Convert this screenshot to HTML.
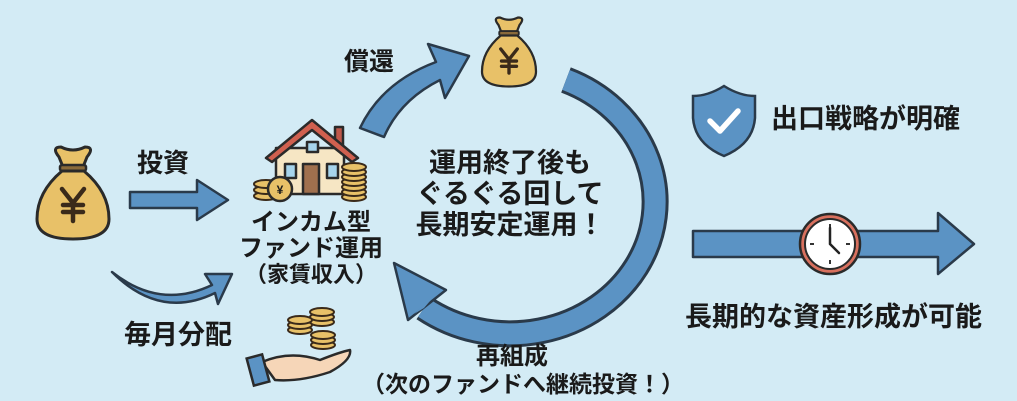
<!DOCTYPE html>
<html><head><meta charset="utf-8"><style>
html,body{margin:0;padding:0;background:#d3ebf5;}
svg{display:block}
text{font-family:"Liberation Sans","Noto Sans CJK JP",sans-serif;font-weight:bold;fill:#1a1a1a}
</style></head><body>
<svg width="1017" height="401" viewBox="0 0 1017 401" xmlns="http://www.w3.org/2000/svg">
<rect width="1017" height="401" fill="#d3ebf5"/>
<defs>
<g id="bag">
  <path d="M-14,-40 Q-22,-50 -12,-50 Q0,-44 12,-50 Q22,-50 14,-40 L10,-30 L-10,-30 Z" fill="#e8c168" stroke="#2a2a2a" stroke-width="3" stroke-linejoin="round"/>
  <rect x="-13" y="-32" width="26" height="6" rx="2" fill="#8a6a3a" stroke="#2a2a2a" stroke-width="2.5"/>
  <path d="M-11,-26 Q-36,-5 -36,22 Q-36,42 0,42 Q36,42 36,22 Q36,-5 11,-26 Z" fill="#e8c168" stroke="#2a2a2a" stroke-width="3"/>
  <path d="M-11,-8 L0,6 L11,-8 M0,6 L0,24 M-10,8 L10,8 M-10,15 L10,15" stroke="#3a2a1a" stroke-width="4.5" fill="none" stroke-linecap="round"/>
</g>
<g id="coin"><ellipse cx="0" cy="0" rx="12" ry="4" fill="#e8c168" stroke="#3a2a1a" stroke-width="2"/></g>
</defs>

<!-- left bag -->
<g transform="translate(73,197) scale(1.0)"><use href="#bag"/></g>
<text x="137" y="172" font-size="26">投資</text>
<path d="M130,192 H197 V180 L228,200 L197,220 V208 H130 Z" fill="#5b93c4" stroke="#2a3a4a" stroke-width="2.5" stroke-linejoin="round"/>

<!-- 毎月分配 curved arrow -->
<path d="M112,272 Q160,310 212,285 L205,274 L232,274 L218,304 L215,293 Q160,320 112,272 Z" fill="#5b93c4" stroke="#2a3a4a" stroke-width="2.5" stroke-linejoin="round"/>
<text x="124" y="344" font-size="27">毎月分配</text>

<!-- house -->
<g stroke="#2a2a2a" stroke-width="2.5" stroke-linejoin="round">
  <rect x="335" y="127" width="8" height="20" fill="#c0574a"/>
  <rect x="276" y="148" width="68" height="46" fill="#f6e6c4"/>
  <path d="M266,158 L312,120 L358,158 L352,162 L312,130 L272,162 Z" fill="#d0604f"/>
  <rect x="307" y="142" width="11" height="10" fill="#a6d4ec"/>
  <rect x="285" y="164" width="11" height="14" fill="#a6d4ec"/>
  <rect x="327" y="164" width="11" height="14" fill="#a6d4ec"/>
  <rect x="303" y="164" width="16" height="30" fill="#a0704e"/>
</g>
<g transform="translate(354,197)"><use href="#coin"/><use href="#coin" y="-5"/><use href="#coin" y="-10"/><use href="#coin" y="-15"/><use href="#coin" y="-20"/><use href="#coin" y="-25"/><use href="#coin" y="-30"/></g>
<g transform="translate(266,196)"><use href="#coin"/><use href="#coin" y="-6"/><use href="#coin" y="-12"/></g>
<circle cx="280" cy="189" r="12" fill="#e8c168" stroke="#2a2a2a" stroke-width="2.5"/>
<text x="280" y="194" font-size="12" text-anchor="middle" fill="#3a2a1a">¥</text>
<text x="311" y="230" font-size="24" text-anchor="middle">インカム型</text>
<text x="311" y="256" font-size="24" text-anchor="middle">ファンド運用</text>
<text x="311" y="282" font-size="22" text-anchor="middle">（家賃収入）</text>

<!-- coins and hand -->
<g transform="translate(322,322)"><use href="#coin"/><use href="#coin" y="-5"/><use href="#coin" y="-10"/></g>
<g transform="translate(300,330)"><use href="#coin"/><use href="#coin" y="-5"/><use href="#coin" y="-10"/></g>
<g transform="translate(323,345)"><use href="#coin"/><use href="#coin" y="-5"/><use href="#coin" y="-10"/></g>
<path d="M262,362 Q290,350 320,360 Q340,352 350,350 Q352,360 330,372 Q300,382 275,380 Z" fill="#f6d6b8" stroke="#2a2a2a" stroke-width="2.5" stroke-linejoin="round"/>
<rect x="250" y="356" width="16" height="28" transform="rotate(-15 258 370)" fill="#5b93c4" stroke="#2a2a2a" stroke-width="2.5"/>

<!-- 償還 arrow -->
<text x="344" y="70" font-size="25">償還</text>
<path d="M360,128 Q382,82 436,62 L428,44 L469,56 L445,98 L440,80 Q400,100 384,137 Z" fill="#5b93c4" stroke="#2a3a4a" stroke-width="2.5" stroke-linejoin="round"/>

<!-- top bag -->
<g transform="translate(509,55) scale(0.75)"><use href="#bag"/></g>

<!-- big arc -->
<path d="M566,80 A145,132 0 1 1 424,308" fill="none" stroke="#2a3a4a" stroke-width="27"/>
<path d="M566,80 A145,132 0 1 1 424,308" fill="none" stroke="#5b93c4" stroke-width="21"/>
<path d="M446,290 L394,263 L408,320 Z" fill="#5b93c4" stroke="#2a3a4a" stroke-width="2.5" stroke-linejoin="round"/>
<path d="M424,308 L436,294 L414,314 Z" fill="#5b93c4"/>
<text x="510" y="172" font-size="27" text-anchor="middle">運用終了後も</text>
<text x="510" y="203" font-size="27" text-anchor="middle">ぐるぐる回して</text>
<text x="510" y="234" font-size="27" text-anchor="middle">長期安定運用！</text>
<text x="512" y="364" font-size="24" text-anchor="middle">再組成</text>
<text x="523" y="392" font-size="23" text-anchor="middle">（次のファンドへ継続投資！）</text>

<!-- shield -->
<path d="M724,86 Q708,96 693,96 L693,118 Q695,144 724,156 Q753,144 755,118 L755,96 Q740,96 724,86 Z" fill="#5b93c4" stroke="#2a3a4a" stroke-width="2.5"/>
<path d="M710,121 L720,131 L738,111" fill="none" stroke="#fff" stroke-width="5.5" stroke-linecap="round" stroke-linejoin="round"/>
<text x="771" y="128" font-size="27">出口戦略が明確</text>

<!-- timeline arrow -->
<path d="M693,231 H938 V213 L974,244 L938,274 V257 H693 Z" fill="#5b93c4" stroke="#2a3a4a" stroke-width="2.5" stroke-linejoin="round"/>
<circle cx="830" cy="244" r="30" fill="#d8705e" stroke="#2a2a2a" stroke-width="2.5"/>
<circle cx="830" cy="244" r="25" fill="#fff" stroke="#2a2a2a" stroke-width="2"/>
<path d="M830,224 V228 M830,260 V264 M810,244 H814 M846,244 H850" stroke="#333" stroke-width="2"/>
<path d="M830,244 V228 M830,244 L839,253" stroke="#222" stroke-width="2.5" stroke-linecap="round"/>
<text x="685" y="326" font-size="27">長期的な資産形成が可能</text>
</svg>
</body></html>
